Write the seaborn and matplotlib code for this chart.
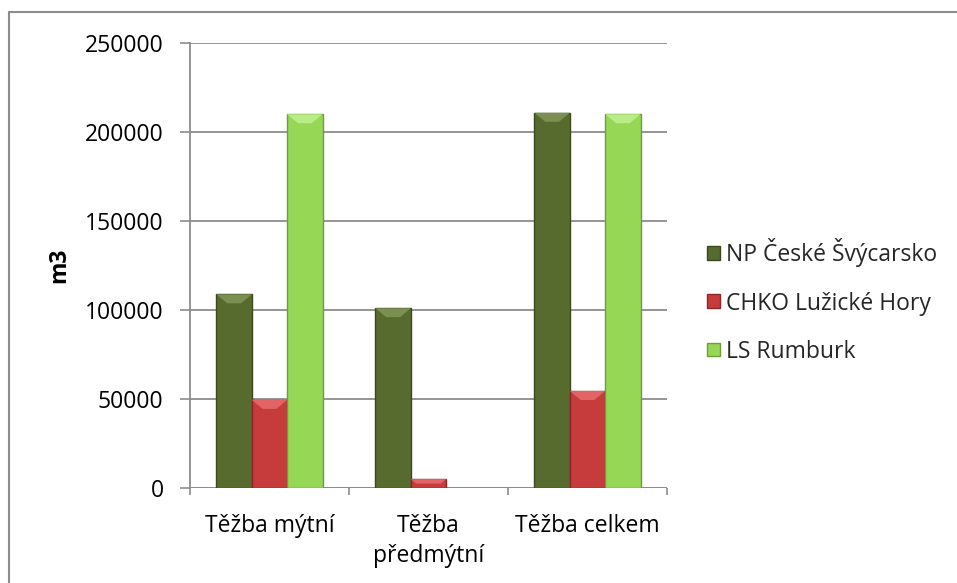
import numpy as np
import pandas as pd
import matplotlib
matplotlib.use("Agg")
import matplotlib.pyplot as plt
from matplotlib.patches import Polygon, Patch
from matplotlib.lines import Line2D
import seaborn as sns

# Harvest volumes (m3) by harvest type and area
categories = ["Těžba mýtní", "Těžba\npředmýtní", "Těžba celkem"]
series_names = ["NP České Švýcarsko", "CHKO Lužické Hory", "LS Rumburk"]
np_ceske_svycarsko = [108800, 101000, 210800]
chko_luzicke_hory = [49500, 5000, 54500]
ls_rumburk = [210000, np.nan, 210000]
y_ticks = [0, 50000, 100000, 150000, 200000, 250000]
y_label = "m3"

face_colors = ["#586B2F", "#C63C3C", "#96D756"]
edge_colors = ["#3A4A1C", "#8E2626", "#6E9E3A"]
bevel_colors = ["#7C8F52", "#E26464", "#B8EC86"]

df = pd.DataFrame({
    "category": categories * 3,
    "series": np.repeat(series_names, len(categories)).tolist(),
    "value": np_ceske_svycarsko + chko_luzicke_hory + ls_rumburk,
})

sns.set_theme(style="white")
plt.rcParams["font.family"] = ["Open Sans", "DejaVu Sans"]
FS = 16.5

W, H, DPI = 957, 583, 100
fig = plt.figure(figsize=(W / DPI, H / DPI), dpi=DPI)
ax = fig.add_axes([190 / W, 1 - 488 / H, (667 - 190) / W, (488 - 43) / H])

sns.barplot(data=df, x="category", y="value", hue="series",
            order=categories, hue_order=series_names,
            palette=face_colors, width=0.667, gap=0, ax=ax,
            legend=False, errorbar=None, saturation=1)

ax.set_ylim(0, 250000)
ax.set_xlim(-0.5, len(categories) - 0.5)
ax.set_yticks(y_ticks)
ax.set_yticklabels([str(t) for t in y_ticks])
ax.set_xlabel("")
ax.set_ylabel(y_label, fontsize=FS, fontweight="bold", labelpad=10,
              color="#000000")

# gridlines and axis styling
grid_col = "#8C8C8C"
ax.set_axisbelow(True)
ax.yaxis.grid(True, color=grid_col, linewidth=1.3)
for side in ["top", "right", "bottom"]:
    ax.spines[side].set_visible(False)
ax.spines["left"].set_color(grid_col)
ax.spines["left"].set_linewidth(1.3)
ax.axhline(0, color=grid_col, linewidth=1.3, zorder=1)

ax.tick_params(axis="y", which="major", direction="out", length=7,
               width=1.2, color=grid_col, pad=12, labelsize=FS,
               labelcolor="#000000", left=True)
ax.set_xticks(np.arange(len(categories)))
ax.set_xticklabels(categories, fontsize=FS, color="#000000",
                   linespacing=1.32, va="top")
ax.set_xticks(np.arange(len(categories) + 1) - 0.5, minor=True)
ax.tick_params(axis="x", which="major", length=0, pad=19)
ax.tick_params(axis="x", which="minor", direction="out", length=5,
               width=1.2, color=grid_col, bottom=True)

# bevelled look on each bar: dark edge and a lighter top facet
for cont, ec, bc in zip(ax.containers, edge_colors, bevel_colors):
    for bar in cont:
        h = bar.get_height()
        if not np.isfinite(h) or h <= 0:
            continue
        bar.set_edgecolor(ec)
        bar.set_linewidth(1.0)
        bar.set_zorder(3)
        x0 = bar.get_x()
        w = bar.get_width()
        # facet height in pixels converted to data units
        p0 = ax.transData.transform((x0, h))
        bevel_px = min(9, (p0[1] - ax.transData.transform((x0, 0))[1]) / 2)
        inset_px = bevel_px * 1.2
        top = ax.transData.inverted().transform((p0[0], p0[1] - bevel_px))[1]
        dx = ax.transData.inverted().transform((p0[0] + inset_px, p0[1]))[0] - x0
        facet = Polygon([(x0, h), (x0 + w, h), (x0 + w - dx, top), (x0 + dx, top)],
                        closed=True, facecolor=bc, edgecolor="none", zorder=4)
        ax.add_patch(facet)

# legend to the right of the plot
handles = [Patch(facecolor=fc, edgecolor=ec, linewidth=1.0)
           for fc, ec in zip(face_colors, edge_colors)]
fig.legend(handles, series_names, loc="center left",
           bbox_to_anchor=(707 / W, 1 - 301 / H), frameon=False,
           fontsize=FS, handlelength=0.55, handleheight=0.55,
           handletextpad=0.3, labelspacing=1.05, borderaxespad=0,
           borderpad=0)

# outer chart frame (top and left edges)
fig.add_artist(Line2D([9 / W, 9 / W], [0, 1 - 12 / H], transform=fig.transFigure,
                      color="#8C8C8C", linewidth=1.5))
fig.add_artist(Line2D([9 / W, 1], [1 - 12 / H, 1 - 12 / H], transform=fig.transFigure,
                      color="#8C8C8C", linewidth=1.5))

fig.savefig("out.png", dpi=DPI, facecolor="white")
